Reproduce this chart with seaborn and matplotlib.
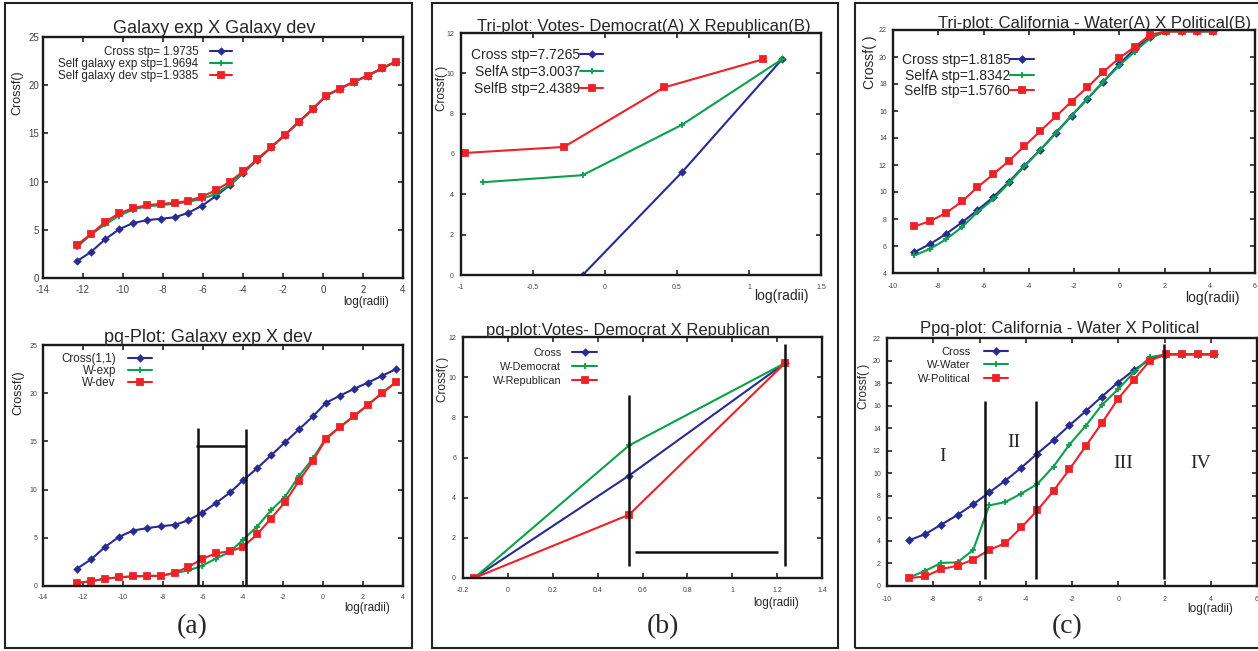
import matplotlib
matplotlib.use("Agg")
import matplotlib.pyplot as plt
import seaborn as sns
from matplotlib.patches import Rectangle

# ---- galaxy data (panel a) ----
gal_x = [-12.3, -11.6, -10.9, -10.2, -9.5, -8.8, -8.1, -7.4, -6.75, -6.05, -5.35, -4.65,
         -4.0, -3.3, -2.6, -1.9, -1.2, -0.5, 0.15, 0.85, 1.55, 2.25, 2.95, 3.65]
gal_cross = [1.75, 2.7, 4.0, 5.05, 5.7, 6.0, 6.15, 6.3, 6.75, 7.5, 8.5, 9.65,
             10.85, 12.25, 13.55, 14.85, 16.2, 17.55, 18.9, 19.65, 20.35, 21.0, 21.75, 22.45]
gal_self_exp = [3.2, 4.5, 5.55, 6.45, 7.1, 7.45, 7.55, 7.7, 7.9, 8.2, 8.75, 9.7,
                10.9, 12.2, 13.5, 14.85, 16.2, 17.55, 18.9, 19.65, 20.35, 21.0, 21.75, 22.45]
gal_self_dev = [3.45, 4.55, 5.8, 6.7, 7.25, 7.55, 7.7, 7.8, 8.0, 8.45, 9.1, 10.0,
                11.05, 12.3, 13.55, 14.85, 16.2, 17.55, 18.9, 19.65, 20.35, 21.0, 21.75, 22.45]
gal_labels = ["Cross stp= 1.9735", "Self galaxy exp stp=1.9694", "Self galaxy dev stp=1.9385"]

pq_cross = [1.8, 2.75, 4.05, 5.1, 5.75, 6.0, 6.2, 6.35, 6.8, 7.6, 8.6, 9.7,
            10.95, 12.2, 13.55, 14.9, 16.25, 17.6, 19.0, 19.75, 20.45, 21.1, 21.8, 22.5]
pq_w_exp = [0.3, 0.5, 0.75, 0.9, 1.0, 1.05, 1.05, 1.35, 1.6, 2.1, 2.85, 3.55,
            4.8, 6.15, 7.85, 9.25, 11.4, 13.25, 15.35, 16.5, 17.65, 18.8, 20.0, 21.15]
pq_w_dev = [0.3, 0.5, 0.75, 0.9, 1.0, 1.05, 1.05, 1.4, 1.95, 2.8, 3.4, 3.6,
            4.05, 5.35, 7.0, 8.7, 10.9, 13.0, 15.25, 16.5, 17.6, 18.8, 20.0, 21.15]
pq_labels = ["Cross(1,1)", "W-exp", "W-dev"]
gal_div_x = [-6.25, -3.85]
gal_div_top = [16.4, 16.3]
gal_bar_x = [-6.35, -3.85]
gal_bar_y = 14.5

# ---- votes data (panel b) ----
votes_cross_x = [-0.155, 0.535, 1.23]
votes_cross = [0.0, 5.1, 10.7]
votes_selfa_x = [-0.85, -0.155, 0.535, 1.23]
votes_selfa = [4.6, 4.95, 7.45, 10.7]
votes_selfb_x = [-0.975, -0.285, 0.41, 1.1]
votes_selfb = [6.05, 6.35, 9.3, 10.7]
votes_labels = ["Cross stp=7.7265", "SelfA stp=3.0037", "SelfB stp=2.4389"]

vpq_x = [-0.15, 0.54, 1.235]
vpq_cross = [0.0, 5.1, 10.7]
vpq_dem = [0.0, 6.6, 10.7]
vpq_rep = [0.0, 3.15, 10.7]
vpq_labels = ["Cross", "W-Democrat", "W-Republican"]
votes_div_x = [0.54, 1.235]
votes_div_lo = 0.6
votes_div_hi = [9.1, 11.65]
votes_bar_x = [0.565, 1.205]
votes_bar_y = 1.3

# ---- california data (panel c) ----
cal_x = [-9.05, -8.35, -7.65, -6.95, -6.27, -5.58, -4.88, -4.19, -3.5, -2.8,
         -2.11, -1.41, -0.71, -0.01, 0.68, 1.37, 2.07, 2.76, 3.45, 4.15]
cal_cross = [5.55, 6.15, 6.9, 7.75, 8.65, 9.6, 10.75, 11.95, 13.1, 14.4,
             15.65, 16.9, 18.15, 19.45, 20.6, 21.45, 21.9, 21.9, 21.9, 21.9]
cal_selfa = [5.3, 5.8, 6.5, 7.4, 8.5, 9.45, 10.65, 11.9, 13.1, 14.35,
             15.65, 16.9, 18.15, 19.35, 20.4, 21.4, 21.9, 21.9, 21.9, 21.9]
cal_selfb = [7.45, 7.85, 8.45, 9.3, 10.35, 11.3, 12.3, 13.4, 14.5, 15.6,
             16.7, 17.75, 18.9, 19.9, 20.75, 21.65, 21.9, 21.9, 21.9, 21.9]
cal_labels = ["Cross stp=1.8185", "SelfA stp=1.8342", "SelfB stp=1.5760"]

calpq_cross = [4.05, 4.6, 5.45, 6.3, 7.25, 8.3, 9.35, 10.5, 11.75, 12.95,
               14.25, 15.5, 16.8, 18.05, 19.15, 20.1, 20.55, 20.55, 20.55, 20.55]
calpq_water = [0.75, 1.35, 2.05, 2.1, 3.2, 7.15, 7.45, 8.2, 9.05, 10.6,
               12.55, 14.2, 16.05, 17.45, 18.95, 20.3, 20.55, 20.55, 20.55, 20.55]
calpq_political = [0.7, 0.85, 1.5, 1.8, 2.35, 3.2, 3.8, 5.2, 6.7, 8.45,
                   10.35, 12.4, 14.45, 16.6, 18.3, 20.0, 20.55, 20.55, 20.55, 20.55]
calpq_labels = ["Cross", "W-Water", "W-Political"]
cal_div_x = [-5.75, -3.55, 1.98]
cal_div_lo = 0.6
cal_div_hi = [16.4, 16.4, 21.5]
regions = ["I", "II", "III", "IV"]
region_x = [-7.6, -4.5, 0.2, 3.55]
region_y = [11.5, 12.7, 10.9, 10.9]

BLUE, GREEN, RED = "#282c92", "#0aa14a", "#ec2227"
W, H = 1258, 651

sns.set_theme(style="ticks")
plt.rcParams["font.family"] = ["Liberation Sans", "DejaVu Sans"]
SERIF = ["Liberation Serif", "DejaVu Serif"]

fig = plt.figure(figsize=(W / 100, H / 100), dpi=100)
fig.patch.set_facecolor("white")


def fx(px):
    return px / W


def fy(py):
    return 1 - py / H


def make_ax(box, xlim, ylim, xticks, yticks, tsize, xpad, ypad):
    l, t, r, b = box
    ax = fig.add_axes([fx(l), fy(b), (r - l) / W, (b - t) / H])
    ax.set_xlim(xlim)
    ax.set_ylim(ylim)
    ax.set_xticks(xticks, labels=[f"{v:g}" for v in xticks])
    ax.set_yticks(yticks, labels=[f"{v:g}" for v in yticks])
    ax.tick_params(direction="in", top=True, right=True, length=3.5, width=1.2,
                   labelsize=tsize, labelcolor="#444444", color="#222222")
    ax.tick_params(axis="x", pad=xpad)
    ax.tick_params(axis="y", pad=ypad)
    for s in ax.spines.values():
        s.set_linewidth(1.7)
        s.set_color("#1a1a1a")
    ax.set_facecolor("white")
    return ax


def draw(ax, x, y, color, marker, ms, label):
    sns.lineplot(x=x, y=y, ax=ax, color=color, marker=marker, markersize=ms,
                 markeredgecolor=color, markeredgewidth=1.3, linewidth=1.5,
                 estimator=None, sort=False, label=label)


def legend(ax, right, top, size, hlen, hpad, lspace):
    ax.legend(loc="upper right", bbox_to_anchor=(fx(right), fy(top)),
              bbox_transform=fig.transFigure, frameon=False, markerfirst=False,
              borderpad=0, borderaxespad=0, fontsize=size, handlelength=hlen,
              handletextpad=hpad, labelspacing=lspace)


def decorate(title, tpos, tsize, ylab, ypos, ysize, xpos, xsize):
    fig.text(fx(tpos[0]), fy(tpos[1]), title, ha="center", va="baseline", fontsize=tsize)
    fig.text(fx(ypos[0]), fy(ypos[1]), ylab, ha="center", va="center",
             rotation=90, fontsize=ysize)
    fig.text(fx(xpos[0]), fy(xpos[1]), "log(radii)", ha="center", va="center", fontsize=xsize)


# panel borders
for l, r in [(5, 412), (432, 838), (855, 1270)]:
    fig.add_artist(Rectangle((fx(l), fy(648)), (r - l) / W, (648 - 3) / H,
                             transform=fig.transFigure, fill=False,
                             edgecolor="#222222", linewidth=1.5))

# ---- (a) top ----
ax = make_ax((43, 37, 403, 278), (-14, 4), (0, 25), range(-14, 5, 2), range(0, 26, 5), 7, 5, 3)
draw(ax, gal_x, gal_cross, BLUE, "D", 3, gal_labels[0])
draw(ax, gal_x, gal_self_exp, GREEN, "+", 5, gal_labels[1])
draw(ax, gal_x, gal_self_dev, RED, "s", 4, gal_labels[2])
legend(ax, 232, 46, 8.4, 1.9, 1.0, 0.0)
decorate("Galaxy exp X Galaxy dev", (214, 33), 13, "Crossf()", (17, 93), 9, (366, 302), 8.5)

# ---- (a) bottom ----
ax = make_ax((43, 345, 403, 586), (-14, 4), (0, 25), range(-14, 5, 2), range(0, 26, 5), 5, 6, 4)
draw(ax, gal_x, pq_cross, BLUE, "D", 3, pq_labels[0])
draw(ax, gal_x, pq_w_exp, GREEN, "+", 5, pq_labels[1])
draw(ax, gal_x, pq_w_dev, RED, "s", 4, pq_labels[2])
ax.vlines(gal_div_x, 0, gal_div_top, color="#111111", linewidth=1.8)
ax.hlines(gal_bar_y, gal_bar_x[0], gal_bar_x[1], color="#111111", linewidth=1.8)
legend(ax, 152, 353, 8.4, 2.1, 1.0, 0.0)
decorate("pq-Plot: Galaxy exp X dev", (208, 342), 13, "Crossf()", (18, 393), 9, (367, 608), 8.5)

# ---- (b) top ----
ax = make_ax((461, 33, 821, 275), (-1, 1.5), (0, 12), [-1, -0.5, 0, 0.5, 1, 1.5],
             range(0, 13, 2), 5, 6.5, 5)
draw(ax, votes_cross_x, votes_cross, BLUE, "D", 3, votes_labels[0])
draw(ax, votes_selfa_x, votes_selfa, GREEN, "+", 5, votes_labels[1])
draw(ax, votes_selfb_x, votes_selfb, RED, "s", 4.5, votes_labels[2])
legend(ax, 603, 48, 10, 1.65, 0.0, 0.2)
decorate("Tri-plot: Votes- Democrat(A) X Republican(B)", (644, 31), 12, "Crossf( )",
         (442, 88), 8.5, (781, 296), 10)

# ---- (b) bottom ----
ax = make_ax((463, 337, 822, 578), (-0.2, 1.4), (0, 12),
             [-0.2, 0, 0.2, 0.4, 0.6, 0.8, 1, 1.2, 1.4], range(0, 13, 2), 5, 6.5, 5)
draw(ax, vpq_x, vpq_cross, BLUE, "D", 3, vpq_labels[0])
draw(ax, vpq_x, vpq_dem, GREEN, "+", 5, vpq_labels[1])
draw(ax, vpq_x, vpq_rep, RED, "s", 4.5, vpq_labels[2])
ax.vlines(votes_div_x, votes_div_lo, votes_div_hi, color="#111111", linewidth=1.8)
ax.hlines(votes_bar_y, votes_bar_x[0], votes_bar_x[1], color="#111111", linewidth=1.8)
legend(ax, 597, 348, 7.8, 2.3, 1.0, 0.35)
decorate("pq-plot:Votes- Democrat X Republican", (628, 335), 12, "Crossf( )",
         (443, 379), 8.5, (776, 603), 8.5)

# ---- (c) top ----
ax = make_ax((893, 30, 1255, 273), (-10, 6), (4, 22), range(-10, 7, 2), range(4, 23, 2), 5, 7, 4.5)
draw(ax, cal_x, cal_cross, BLUE, "D", 3.2, cal_labels[0])
draw(ax, cal_x, cal_selfa, GREEN, "+", 5, cal_labels[1])
draw(ax, cal_x, cal_selfb, RED, "s", 4.8, cal_labels[2])
legend(ax, 1034, 53, 10, 1.7, 0.0, 0.12)
decorate("Tri-plot: California - Water(A) X Political(B)", (1095, 28), 12, "Crossf( )",
         (870, 62), 10, (1212, 298), 10)

# ---- (c) bottom ----
ax = make_ax((887, 338, 1257, 586), (-10, 6), (0, 22), range(-10, 7, 2), range(0, 23, 2), 5, 7, 4.5)
draw(ax, cal_x, calpq_cross, BLUE, "D", 3.2, calpq_labels[0])
draw(ax, cal_x, calpq_water, GREEN, "+", 5, calpq_labels[1])
draw(ax, cal_x, calpq_political, RED, "s", 4.8, calpq_labels[2])
ax.vlines(cal_div_x, cal_div_lo, cal_div_hi, color="#111111", linewidth=1.8)
for name, rx, ry in zip(regions, region_x, region_y):
    ax.text(rx, ry, name, ha="center", va="center", fontsize=14, family=SERIF)
legend(ax, 1008, 347, 8, 2.2, 1.2, 0.3)
decorate("Ppq-plot: California - Water X Political", (1060, 333), 12, "Crossf( )",
         (864, 386), 8.5, (1210, 609), 8.5)

# panel tags
for tag, px in [("(a)", 192), ("(b)", 663), ("(c)", 1067)]:
    fig.text(fx(px), fy(627), tag, ha="center", va="center", fontsize=20, family=SERIF)

fig.savefig("out.png", dpi=100, facecolor="white")
